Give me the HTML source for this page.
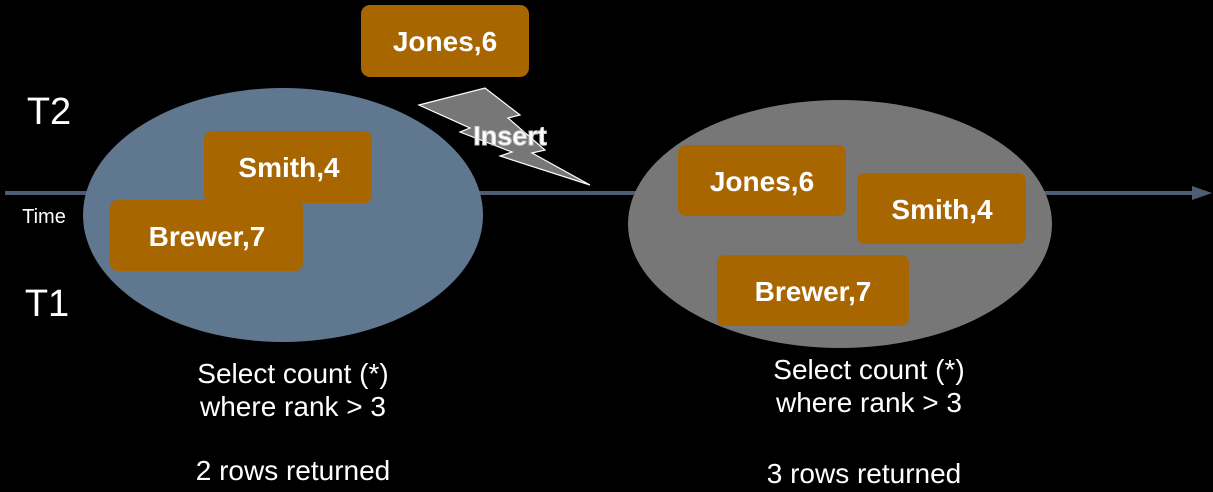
<!DOCTYPE html>
<html><head><style>
body{margin:0;background:#000;width:1213px;height:492px;overflow:hidden;font-family:"Liberation Sans",sans-serif;}
.s{position:absolute;left:0;top:0}
</style></head><body>
<svg class="s" width="1213" height="492" xmlns="http://www.w3.org/2000/svg">
<line x1="5" y1="193" x2="1198" y2="193" stroke="#4d5d74" stroke-width="4"/>
<polygon points="1212,193 1192,186 1192,200" fill="#4d5d74"/>
<ellipse cx="283" cy="215" rx="200" ry="127" fill="#5f778f"/>
<ellipse cx="840" cy="224" rx="212" ry="124" fill="#777777"/>
<g fill="#a86600">
<rect x="361" y="5" width="168" height="72" rx="9"/>
<rect x="204" y="131" width="168" height="72" rx="8"/>
<rect x="110" y="200" width="193" height="71" rx="8"/>
<rect x="678" y="145" width="168" height="71" rx="8"/>
<rect x="857" y="173" width="169" height="71" rx="8"/>
<rect x="717" y="255" width="192" height="71" rx="8"/>
</g>
<polygon points="419,105 485,88 520,115 508,118 545,150 532,153 590,185 500,156 512,152 460,132 470,128" fill="#777" stroke="#fff" stroke-width="1.2"/>
<g fill="#fff" font-weight="bold" font-size="28" text-anchor="middle">
<text x="445" y="51">Jones,6</text>
<text x="289" y="177">Smith,4</text>
<text x="207" y="246">Brewer,7</text>
<text x="762" y="191">Jones,6</text>
<text x="942" y="219">Smith,4</text>
<text x="813" y="301">Brewer,7</text>
<text x="510" y="145" font-size="27" stroke="#ccc" stroke-width="1">Insert</text>
</g>
<g fill="#fff" font-size="28" text-anchor="middle">
<text x="49" y="124" font-size="38">T2</text>
<text x="47" y="316" font-size="38">T1</text>
<text x="44" y="223" font-size="20">Time</text>
<text x="293" y="383">Select count (*)</text>
<text x="293" y="416">where rank &gt; 3</text>
<text x="293" y="480">2 rows returned</text>
<text x="869" y="379">Select count (*)</text>
<text x="869" y="412">where rank &gt; 3</text>
<text x="864" y="483">3 rows returned</text>
</g>
</svg>
</body></html>
